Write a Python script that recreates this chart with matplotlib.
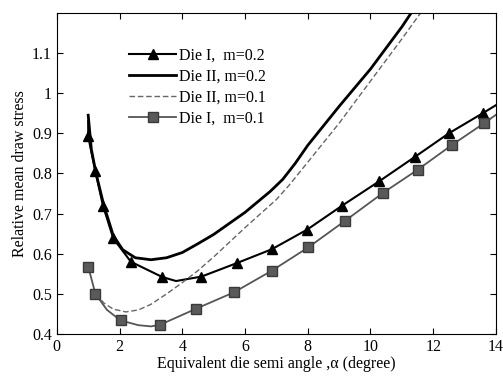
import numpy as np
import matplotlib
matplotlib.use("Agg")
import matplotlib.pyplot as plt

plt.rcParams['font.family'] = ['Liberation Serif', 'DejaVu Serif']

# Die I, m=0.2 (triangles)
d1_02_x = [1.0, 1.0, 1.23, 1.47, 1.8, 2.36, 3.36, 3.8, 4.61, 5.75, 6.85, 7.98, 9.1, 10.27, 11.43, 12.5, 13.58, 14.0]
d1_02_y = [0.93, 0.892, 0.805, 0.72, 0.638, 0.58, 0.542, 0.532, 0.543, 0.577, 0.611, 0.66, 0.72, 0.78, 0.842, 0.9, 0.95, 0.97]
d1_02_mx = [1.0, 1.23, 1.47, 1.8, 2.36, 3.36, 4.61, 5.75, 6.85, 7.98, 9.1, 10.27, 11.43, 12.5, 13.58]
d1_02_my = [0.892, 0.805, 0.72, 0.638, 0.58, 0.542, 0.543, 0.577, 0.611, 0.66, 0.72, 0.78, 0.842, 0.9, 0.95]

# Die II, m=0.2 (thick solid)
d2_02_x = [1.0, 1.1, 1.25, 1.5, 1.8, 2.1, 2.5, 3.0, 3.5, 4.0, 4.5, 5.0, 6.0, 6.8, 7.2, 7.6, 8.0, 9.0, 10.0, 11.0, 11.3]
d2_02_y = [0.945, 0.86, 0.8, 0.72, 0.645, 0.61, 0.59, 0.585, 0.59, 0.603, 0.625, 0.648, 0.703, 0.755, 0.785, 0.825, 0.87, 0.967, 1.06, 1.165, 1.2]

# Die II, m=0.1 (dashed)
d2_01_x = [1.25, 1.5, 1.8, 2.2, 2.6, 3.0, 3.5, 4.0, 4.5, 5.0, 6.0, 7.0, 7.4, 8.0, 9.0, 10.0, 11.0, 11.6]
d2_01_y = [0.50, 0.477, 0.462, 0.455, 0.46, 0.474, 0.5, 0.528, 0.558, 0.592, 0.665, 0.735, 0.77, 0.828, 0.925, 1.03, 1.135, 1.2]

# Die I, m=0.1 (squares)
d1_01_x = [1.0, 1.23, 1.6, 2.03, 2.6, 3.0, 3.29, 4.44, 5.65, 6.86, 8.02, 9.19, 10.39, 11.5, 12.6, 13.62, 14.0]
d1_01_y = [0.568, 0.5, 0.46, 0.434, 0.422, 0.419, 0.423, 0.463, 0.504, 0.558, 0.616, 0.682, 0.751, 0.809, 0.871, 0.925, 0.946]
d1_01_mx = [1.0, 1.23, 2.03, 3.29, 4.44, 5.65, 6.86, 8.02, 9.19, 10.39, 11.5, 12.6, 13.62]
d1_01_my = [0.568, 0.5, 0.434, 0.423, 0.463, 0.504, 0.558, 0.616, 0.682, 0.751, 0.809, 0.871, 0.925]

xticks = [0, 2, 4, 6, 8, 10, 12, 14]
yticks = [0.4, 0.5, 0.6, 0.7, 0.8, 0.9, 1.0, 1.1]
ytick_labels = ['0.4', '0.5', '0.6', '0.7', '0.8', '0.9', '1', '1.1']

fig = plt.figure(figsize=(5.03, 3.77), dpi=100)
ax = fig.add_axes([0.113, 0.114, 0.873, 0.852])

gray = '#555555'
ax.plot(d1_02_x, d1_02_y, color='black', lw=1.5)
ax.plot(d1_02_mx, d1_02_my, ls='none', marker='^', ms=6.5, color='black')
ax.plot(d2_02_x, d2_02_y, color='black', lw=2.0)
ax.plot(d2_01_x, d2_01_y, color='#666666', lw=1.0, ls=(0, (4, 2)))
ax.plot(d1_01_x, d1_01_y, color=gray, lw=1.3)
ax.plot(d1_01_mx, d1_01_my, ls='none', marker='s', ms=6.5, color='#5a5a5a', mec='#3a3a3a')

# legend proxies
h1, = ax.plot([], [], color='black', lw=1.5, marker='^', ms=6.5)
h2, = ax.plot([], [], color='black', lw=2.0)
h3, = ax.plot([], [], color='#666666', lw=1.0, ls=(0, (4, 2)))
h4, = ax.plot([], [], color=gray, lw=1.3, marker='s', ms=6.5, mfc='#5a5a5a', mec='#3a3a3a')
ax.legend([h1, h2, h3, h4],
          ['Die I,  m=0.2', 'Die II, m=0.2', 'Die II, m=0.1', 'Die I,  m=0.1'],
          loc='upper left', bbox_to_anchor=(0.14, 0.925), frameon=False,
          fontsize=11.5, handlelength=2.9, handletextpad=0.2, labelspacing=0.3,
          borderpad=0.2)

ax.set_xlim(0, 14)
ax.set_ylim(0.4, 1.2)
ax.set_xticks(xticks)
ax.set_yticks(yticks)
ax.set_yticklabels(ytick_labels)
ax.tick_params(direction='in', top=True, right=True, labelsize=11.5, length=4)
ax.set_xlabel('Equivalent die semi angle ,\u03b1 (degree)', fontsize=11.5, labelpad=1)
ax.set_ylabel('Relative mean draw stress', fontsize=11.5, labelpad=3)

fig.savefig('out.png', dpi=100)
